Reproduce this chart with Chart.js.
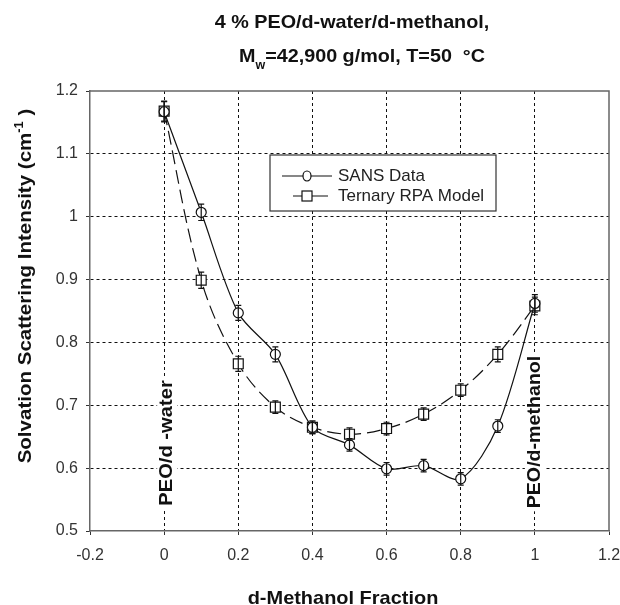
<!DOCTYPE html>
<html>
<head>
<meta charset="utf-8">
<script src="https://cdn.jsdelivr.net/npm/chart.js@4.4.1/dist/chart.umd.min.js"></script>
<style>
  html, body { margin: 0; padding: 0; background: #fff; }
  #wrap { width: 620px; height: 605px; }
</style>
</head>
<body>
<div id="wrap"><canvas id="chart" width="620" height="605"></canvas></div>
<script>
// values
const fraction = [0, 0.1, 0.2, 0.3, 0.4, 0.5, 0.6, 0.7, 0.8, 0.9, 1.0];
const sansData = [1.167, 1.007, 0.847, 0.781, 0.665, 0.637, 0.599, 0.604, 0.583, 0.667, 0.862];
const sansErr  = [0.016, 0.013, 0.012, 0.012, 0.010, 0.010, 0.010, 0.010, 0.010, 0.010, 0.014];
const rpaModel = [1.168, 0.899, 0.766, 0.697, 0.665, 0.654, 0.663, 0.686, 0.724, 0.781, 0.858];
const rpaErr   = [0.016, 0.013, 0.012, 0.010, 0.010, 0.010, 0.010, 0.010, 0.010, 0.012, 0.014];

const xTicks = [-0.2, 0, 0.2, 0.4, 0.6, 0.8, 1, 1.2];
const xTickLabels = ['-0.2', '0', '0.2', '0.4', '0.6', '0.8', '1', '1.2'];
const yTicks = [0.5, 0.6, 0.7, 0.8, 0.9, 1.0, 1.1, 1.2];
const yTickLabels = ['0.5', '0.6', '0.7', '0.8', '0.9', '1', '1.1', '1.2'];

const seriesNames = ['SANS Data', 'Ternary RPA Model'];
const FONT = '"Liberation Sans", Arial, Helvetica, sans-serif';

function toPoints(ys) {
  return fraction.map((x, i) => ({ x: x, y: ys[i] }));
}

// grid lines on the edges are covered by the frame
function gridColor(ctx) {
  const s = ctx.scale;
  if (!ctx.tick) return '#111';
  if (Math.abs(ctx.tick.value - s.min) < 1e-9 || Math.abs(ctx.tick.value - s.max) < 1e-9) return 'rgba(0,0,0,0)';
  return '#111';
}

const errorBars = {
  id: 'errorBars',
  afterDatasetsDraw(chart) {
    const ctx = chart.ctx;
    const yScale = chart.scales.y;
    const errs = [sansErr, rpaErr];
    ctx.save();
    ctx.strokeStyle = '#111';
    ctx.lineWidth = 1.2;
    chart.data.datasets.forEach((ds, di) => {
      const meta = chart.getDatasetMeta(di);
      meta.data.forEach((pt, i) => {
        const v = ds.data[i].y;
        const yTop = yScale.getPixelForValue(v + errs[di][i]);
        const yBot = yScale.getPixelForValue(v - errs[di][i]);
        ctx.beginPath();
        ctx.moveTo(pt.x, yTop); ctx.lineTo(pt.x, yBot);
        ctx.moveTo(pt.x - 3, yTop); ctx.lineTo(pt.x + 3, yTop);
        ctx.moveTo(pt.x - 3, yBot); ctx.lineTo(pt.x + 3, yBot);
        ctx.stroke();
      });
    });
    ctx.restore();
  }
};

// text drawn stretched a little along its direction, like the scanned figure
function stretchedText(ctx, parts, cx, cy, angle, stretch) {
  ctx.save();
  ctx.translate(cx, cy);
  ctx.rotate(angle);
  ctx.scale(stretch, 1);
  let total = 0;
  parts.forEach(p => { ctx.font = p.font; p.w = ctx.measureText(p.text).width; total += p.w; });
  let t = -total / 2;
  ctx.textAlign = 'left';
  parts.forEach(p => {
    ctx.font = p.font;
    ctx.fillText(p.text, t, p.dy || 0);
    t += p.w;
  });
  ctx.restore();
  return total * stretch;
}

const decorations = {
  id: 'decorations',
  afterDatasetsDraw(chart) {
    const ctx = chart.ctx;
    const a = chart.chartArea;
    const xs = chart.scales.x;
    ctx.save();

    // frame top + right
    ctx.strokeStyle = '#666';
    ctx.lineWidth = 1.5;
    ctx.beginPath();
    ctx.moveTo(a.left, a.top); ctx.lineTo(a.right, a.top); ctx.lineTo(a.right, a.bottom);
    ctx.stroke();

    // vertical notes at the pure solvents
    const noteFont = 'bold 18px ' + FONT;
    const notes = [
      { text: 'PEO/d -water', x: xs.getPixelForValue(0) + 3, y: 443, k: 1.12 },
      { text: 'PEO/d-methanol', x: xs.getPixelForValue(1), y: 432, k: 1.09 }
    ];
    notes.forEach(n => {
      ctx.font = noteFont;
      const w = ctx.measureText(n.text).width * n.k;
      ctx.save();
      ctx.translate(n.x, n.y);
      ctx.rotate(-Math.PI / 2);
      ctx.fillStyle = '#fff';
      ctx.fillRect(-w / 2 - 3, -10, w + 6, 20);
      ctx.restore();
      ctx.fillStyle = '#111';
      ctx.textBaseline = 'middle';
      stretchedText(ctx, [{ text: n.text, font: noteFont }], n.x, n.y, -Math.PI / 2, n.k);
    });

    // legend box
    const lx = a.left + 180, ly = a.top + 64, lw = 226, lh = 56;
    ctx.fillStyle = '#fff';
    ctx.fillRect(lx, ly, lw, lh);
    ctx.strokeStyle = '#333';
    ctx.lineWidth = 1.2;
    ctx.strokeRect(lx, ly, lw, lh);
    ctx.strokeStyle = '#111';
    ctx.lineWidth = 1.2;
    // SANS sample
    ctx.beginPath();
    ctx.moveTo(lx + 12, ly + 21); ctx.lineTo(lx + 62, ly + 21);
    ctx.stroke();
    ctx.beginPath();
    ctx.ellipse(lx + 37, ly + 21, 4, 5, 0, 0, Math.PI * 2);
    ctx.fillStyle = '#fff'; ctx.fill(); ctx.stroke();
    // RPA sample
    ctx.beginPath();
    ctx.moveTo(lx + 23, ly + 41); ctx.lineTo(lx + 58, ly + 41);
    ctx.stroke();
    ctx.fillStyle = '#fff';
    ctx.fillRect(lx + 32, ly + 36, 10, 10);
    ctx.strokeRect(lx + 32, ly + 36, 10, 10);
    ctx.fillStyle = '#222';
    ctx.font = '17px ' + FONT;
    ctx.textAlign = 'left';
    ctx.textBaseline = 'middle';
    ctx.fillText(seriesNames[0], lx + 68, ly + 21);
    ctx.fillText(seriesNames[1], lx + 68, ly + 41);

    ctx.restore();
  },
  afterDraw(chart) {
    const ctx = chart.ctx;
    ctx.save();
    ctx.fillStyle = '#111';
    ctx.textBaseline = 'alphabetic';
    const big = 'bold 19px ' + FONT;
    const small = 'bold 12px ' + FONT;

    // title
    stretchedText(ctx, [{ text: '4 % PEO/d-water/d-methanol,', font: big }], 352, 28, 0, 1.04);
    stretchedText(ctx, [
      { text: 'M', font: big },
      { text: 'w', font: small, dy: 7 },
      { text: '=42,900 g/mol, T=50  \u00B0C', font: big }
    ], 362, 62, 0, 1.04);

    // y axis title with superscript
    stretchedText(ctx, [
      { text: 'Solvation Scattering Intensity (cm', font: big },
      { text: '-1', font: small, dy: -8 },
      { text: ' )', font: big }
    ], 31, 286, -Math.PI / 2, 1.08);

    // x axis title
    stretchedText(ctx, [{ text: 'd-Methanol Fraction', font: big }], 343, 604, 0, 1.05);
    ctx.restore();
  }
};

new Chart(document.getElementById('chart').getContext('2d'), {
  type: 'line',
  data: {
    datasets: [{
      label: seriesNames[0],
      data: toPoints(sansData),
      borderColor: '#111',
      borderWidth: 1.2,
      pointStyle: 'circle',
      pointRadius: 5,
      pointBorderWidth: 1.2,
      pointBackgroundColor: '#fff',
      pointBorderColor: '#111',
      tension: 0.3,
      fill: false
    }, {
      label: seriesNames[1],
      data: toPoints(rpaModel),
      borderColor: '#111',
      borderWidth: 1.2,
      borderDash: [14, 6],
      pointStyle: 'rect',
      pointRadius: 7,
      pointBorderWidth: 1.2,
      pointBackgroundColor: '#fff',
      pointBorderColor: '#111',
      tension: 0.35,
      fill: false
    }]
  },
  options: {
    responsive: false,
    animation: false,
    devicePixelRatio: 1,
    layout: { padding: { top: 91, right: 11, left: 0, bottom: 0 } },
    plugins: {
      legend: { display: false },
      title: { display: false },
      tooltip: { enabled: false }
    },
    scales: {
      x: {
        type: 'linear',
        min: -0.2,
        max: 1.2,
        afterBuildTicks: s => { s.ticks = xTicks.map(v => ({ value: v })); },
        afterFit: s => { s.height = 74; s.paddingLeft = 0; s.paddingRight = 0; },
        ticks: {
          autoSkip: false,
          maxRotation: 0,
          padding: 11,
          color: '#333',
          font: { family: FONT, size: 16 },
          callback: (v, i) => xTickLabels[i]
        },
        grid: { color: gridColor, lineWidth: 1, tickLength: 4, tickColor: '#333' },
        border: { color: '#666', width: 1.5, dash: [3, 3] }
      },
      y: {
        type: 'linear',
        min: 0.5,
        max: 1.2,
        afterBuildTicks: s => { s.ticks = yTicks.map(v => ({ value: v })); },
        afterFit: s => { s.width = 90; s.paddingTop = 0; s.paddingBottom = 0; },
        ticks: {
          autoSkip: false,
          padding: 8,
          color: '#333',
          font: { family: FONT, size: 16 },
          callback: (v, i) => yTickLabels[i]
        },
        grid: { color: gridColor, lineWidth: 1, tickLength: 4, tickColor: '#333' },
        border: { color: '#666', width: 1.5, dash: [3, 3] }
      }
    }
  },
  plugins: [errorBars, decorations]
});
</script>
</body>
</html>
